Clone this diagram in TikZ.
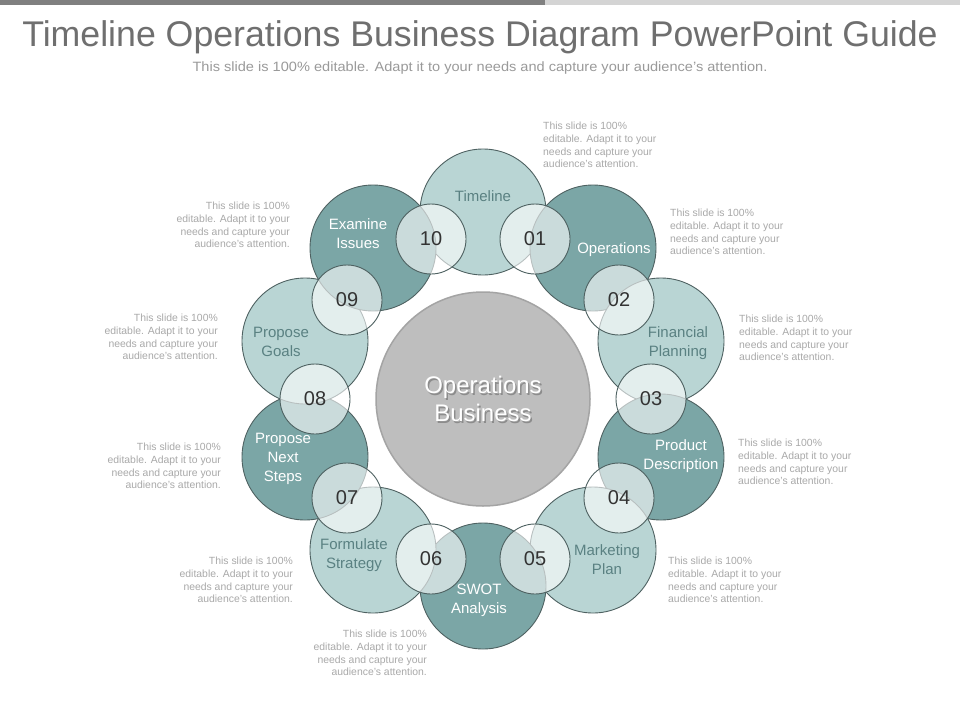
\documentclass[tikz,border=0pt]{standalone}
\usepackage{fontspec}
\setmainfont{Liberation Sans}
\usepackage{tikz}

\definecolor{tealLight}{HTML}{B9D5D4}
\definecolor{tealDark}{HTML}{7BA6A6}
\definecolor{ringLine}{HTML}{4E6161}
\definecolor{lblTeal}{HTML}{5A8182}
\definecolor{noteGray}{HTML}{A9A9A9}
\definecolor{titleGray}{HTML}{6F6F6F}
\definecolor{subGray}{HTML}{9A9A9A}
\definecolor{hubFill}{HTML}{BEBEBE}
\definecolor{hubLine}{HTML}{A4A4A4}

\newcommand{\notetext}{This slide is 100\%\\editable.  Adapt it to your\\needs and capture your\\audience's attention.}

\begin{document}
\begin{tikzpicture}[x=1pt,y=-1pt,
		big/.style={circle,draw=ringLine,line width=0.9pt,minimum size=126pt,inner sep=0pt},
		lite/.style={big,fill=tealLight},
		dark/.style={big,fill=tealDark},
		num/.style={circle,draw=ringLine,line width=0.9pt,fill=white,fill opacity=0.6,text opacity=1,minimum size=70pt,inner sep=0pt,text=black!80,font=\fontsize{20}{20}\selectfont},
		lbl/.style={align=center,inner sep=0pt,font=\fontsize{15}{19}\selectfont},
		litelbl/.style={lbl,text=lblTeal},
		darklbl/.style={lbl,text=white},
		noteR/.style={anchor=north west,align=left,inner sep=0pt,text=noteGray,font=\fontsize{10.4}{12.7}\selectfont},
		noteL/.style={noteR,anchor=north east,align=right}]
		\useasboundingbox (0,0) rectangle (960,720);
		\fill[white] (0,0) rectangle (960,720);
		% top bar
		\fill[black!50] (0,0) rectangle (545,5);
		\fill[black!17] (545,0) rectangle (960,5);
		% heading
		\node[text=titleGray,font=\fontsize{35.7}{40}\selectfont] (title) at (480,37) {Timeline Operations Business Diagram PowerPoint Guide};
		\node[text=subGray,font=\fontsize{13.5}{15}\selectfont] (subtitle) at (480,68) {\scalebox{1.08}[1]{This slide is 100\% editable.  Adapt it to your needs and capture your audience's attention.}};

		% hub
		\node[circle,draw=hubLine,line width=1.5pt,fill=hubFill,minimum size=214pt] (hub) at (483,399) {};
		\node[align=center,text=black!45,font=\fontsize{24}{28}\selectfont] at ([shift={(1.5,1.5)}]hub.center) {Operations\\Business};
		\node[align=center,text=white,font=\fontsize{24}{28}\selectfont] (hubtext) at (hub.center) {Operations\\Business};

		% ring of topics
		\node[lite] (timeline) at (483,212) {};
		\node[dark] (operations) at (593,248) {};
		\node[lite] (finance) at (661,341) {};
		\node[dark] (product) at (661,457) {};
		\node[lite] (marketing) at (593,550) {};
		\node[dark] (swot) at (483,586) {};
		\node[lite] (strategy) at (373,550) {};
		\node[dark] (nextsteps) at (305,457) {};
		\node[lite] (goals) at (305,341) {};
		\node[dark] (issues) at (373,248) {};

		\node[litelbl] at (483,196) {Timeline};
		\node[darklbl] at (614,250) {Operations};
		\node[litelbl] at (678,343) {Financial\\Planning};
		\node[darklbl] at (681,456) {Product\\Description};
		\node[litelbl] at (607,560) {Marketing\\Plan};
		\node[darklbl] at (479,600) {SWOT\\Analysis};
		\node[litelbl] at (354,555) {Formulate\\Strategy};
		\node[darklbl] at (283,459) {Propose\\Next\\Steps};
		\node[litelbl] at (281,342) {Propose\\Goals};
		\node[darklbl] at (358,234) {Examine\\Issues};

		% numbered links
		\node[num] (n01) at (535,239) {01};
		\node[num] (n02) at (619,300) {02};
		\node[num] (n03) at (651,399) {03};
		\node[num] (n04) at (619,498) {04};
		\node[num] (n05) at (535,559) {05};
		\node[num] (n06) at (431,559) {06};
		\node[num] (n07) at (347,498) {07};
		\node[num] (n08) at (315,399) {08};
		\node[num] (n09) at (347,300) {09};
		\node[num] (n10) at (431,239) {10};

		% notes
		\node[noteR] (note01) at (543,122) {\notetext};
		\node[noteR] (note02) at (670,209) {\notetext};
		\node[noteR] (note03) at (739,315) {\notetext};
		\node[noteR] (note04) at (738,439) {\notetext};
		\node[noteR] (note05) at (668,557) {\notetext};
		\node[noteL] (note06) at (427,630) {\notetext};
		\node[noteL] (note07) at (293,557) {\notetext};
		\node[noteL] (note08) at (221,443) {\notetext};
		\node[noteL] (note09) at (218,314) {\notetext};
		\node[noteL] (note10) at (290,202) {\notetext};
	\end{tikzpicture}
\end{document}
